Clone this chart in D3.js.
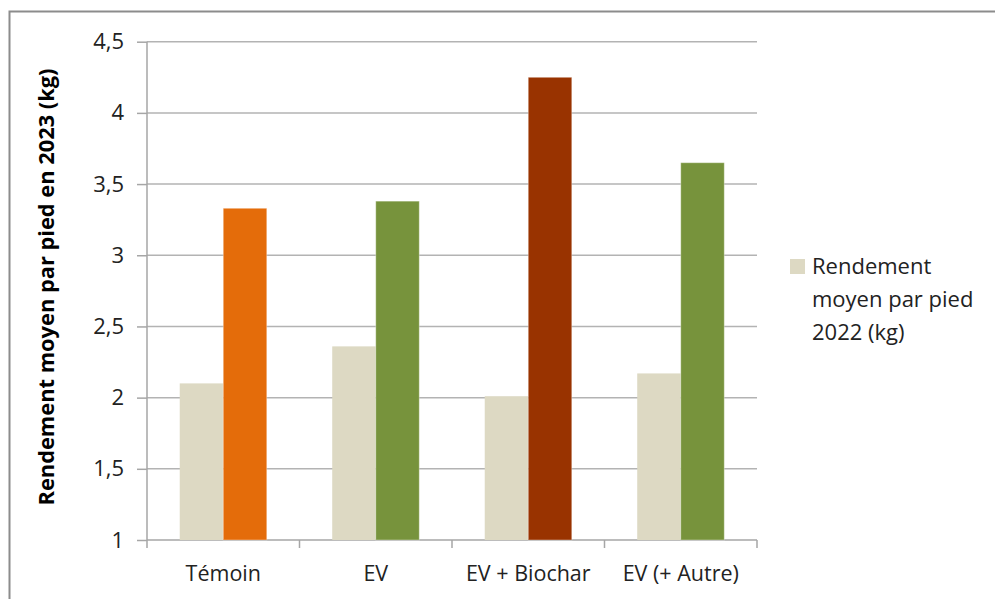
<!DOCTYPE html>
<html><head><meta charset="utf-8">
<script src="https://cdn.jsdelivr.net/npm/d3@7"></script>
<style>body{margin:0;background:#fff}svg{display:block}</style>
</head><body>
<script>
const categories = ["Témoin", "EV", "EV + Biochar", "EV (+ Autre)"];
const values2022 = [2.10, 2.36, 2.01, 2.17];
const values2023 = [3.33, 3.38, 4.25, 3.65];
const colors2023 = ["#E46C0A", "#77933C", "#993300", "#77933C"];
const color2022 = "#DDD9C3";
const yTicks = [1, 1.5, 2, 2.5, 3, 3.5, 4, 4.5];
const yTitle = "Rendement moyen par pied en 2023 (kg)";
const legendLines = ["Rendement", "moyen par pied", "2022 (kg)"];

const W = 995, H = 599;
const font = "'Open Sans', 'Liberation Sans', sans-serif";
const svg = d3.select("body").append("svg").attr("width", W).attr("height", H);

// frame
svg.append("path").attr("d", `M9.5,${H} V11.5 H${W}`).attr("fill","none").attr("stroke","#8c8c8c").attr("stroke-width",2);

const x0 = 147, x1 = 757, yTop = 41.7, yBot = 540;
const x = d3.scaleBand().domain(categories).range([x0, x1]).paddingInner(0).paddingOuter(0);
const y = d3.scaleLinear().domain([1, 4.5]).range([yBot, yTop]);

// gridlines
svg.append("g").selectAll("line").data(yTicks.filter(t => t > 1)).join("line")
  .attr("x1", x0).attr("x2", x1).attr("y1", d => y(d)).attr("y2", d => y(d))
  .attr("stroke", "#b3b3b3").attr("stroke-width", 1.5);

// y axis
const yAxis = svg.append("g").attr("transform", `translate(${x0},0)`)
  .call(d3.axisLeft(y).tickValues(yTicks).tickSize(10).tickPadding(13)
    .tickFormat(d => String(d).replace(".", ",")));
yAxis.select(".domain").attr("stroke", "#a6a6a6").attr("stroke-width", 1.5).attr("d", `M-0,${yTop}V${yBot}`);
yAxis.selectAll(".tick line").attr("stroke", "#a6a6a6").attr("stroke-width", 1.5);
yAxis.selectAll(".tick text").attr("font-family", font).attr("font-size", 22).attr("fill", "#222");

// x axis
const xAxis = svg.append("g").attr("transform", `translate(0,${yBot})`)
  .call(d3.axisBottom(x).tickSize(0).tickPadding(26));
xAxis.select(".domain").remove();
xAxis.selectAll(".tick text").attr("font-family", font).attr("font-size", 21.5).attr("fill", "#222");
svg.append("line").attr("x1", x0).attr("x2", x1).attr("y1", yBot).attr("y2", yBot)
  .attr("stroke", "#a6a6a6").attr("stroke-width", 1.5);
const bounds = categories.map(c => x(c)).concat([x1]);
svg.append("g").selectAll("line").data(bounds).join("line")
  .attr("x1", d => d).attr("x2", d => d).attr("y1", yBot).attr("y2", yBot + 8)
  .attr("stroke", "#a6a6a6").attr("stroke-width", 1.5);

// bars
const inner = d3.scaleBand().domain([0, 1]).range([0, x.bandwidth()]).paddingInner(0).paddingOuter(0.752);
const bars = svg.append("g");
bars.selectAll("rect.a").data(categories).join("rect").attr("class", "a")
  .attr("x", d => x(d) + inner(0)).attr("width", inner.bandwidth())
  .attr("y", (d, i) => y(values2022[i])).attr("height", (d, i) => yBot - y(values2022[i]))
  .attr("fill", color2022);
bars.selectAll("rect.b").data(categories).join("rect").attr("class", "b")
  .attr("x", d => x(d) + inner(1)).attr("width", inner.bandwidth())
  .attr("y", (d, i) => y(values2023[i])).attr("height", (d, i) => yBot - y(values2023[i]))
  .attr("fill", (d, i) => colors2023[i]).attr("stroke", "rgba(255,255,255,0.35)").attr("stroke-width", 1);

// y title
svg.append("text").attr("transform", `translate(54,287) rotate(-90)`)
  .attr("text-anchor", "middle").attr("font-family", font).attr("font-weight", "bold")
  .attr("font-size", 21).attr("textLength", 437).attr("lengthAdjust", "spacingAndGlyphs")
  .attr("fill", "#000").text(yTitle);

// legend
svg.append("rect").attr("x", 790).attr("y", 259).attr("width", 15).attr("height", 15).attr("fill", color2022);
svg.append("g").selectAll("text").data(legendLines).join("text")
  .attr("x", 812).attr("y", (d, i) => 274 + i * 33)
  .attr("font-family", font).attr("font-size", 22).attr("fill", "#222").text(d => d);
</script>
</body></html>
